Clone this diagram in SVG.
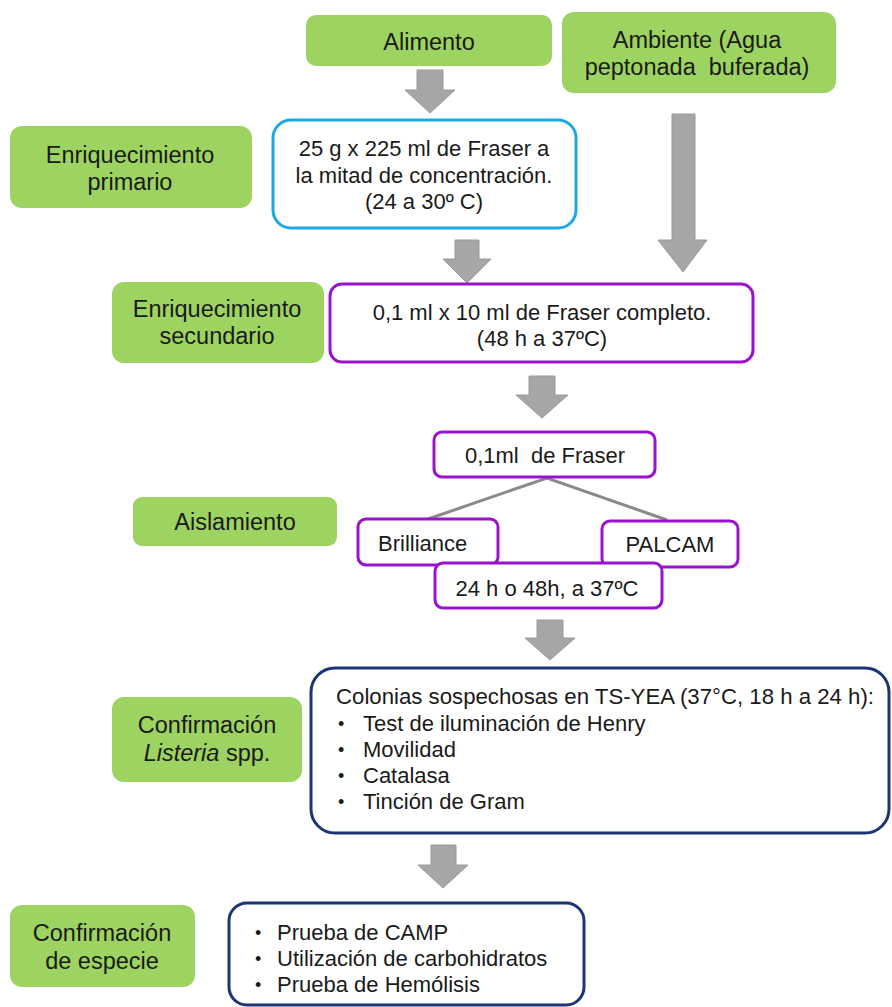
<svg xmlns="http://www.w3.org/2000/svg" width="892" height="1007" viewBox="0 0 892 1007">
<style>
text{font-family:"Liberation Sans",Arial,sans-serif;font-size:22px;fill:#1a1a1a;white-space:pre}
.c{text-anchor:middle}
.gt{font-size:23.5px}
.g{fill:#9dd360;stroke:none}
.blue{fill:#fff;stroke:#1ea7e6;stroke-width:3}
.pur{fill:#fff;stroke:#9a12cc;stroke-width:3}
.navy{fill:#fff;stroke:#1d3575;stroke-width:3}
.arr{fill:#a6a6a6;stroke:#9a9a9a;stroke-width:1}
.ln{stroke:#8a8a8a;stroke-width:3;fill:none}
.b{font-size:18px}
</style>
<rect width="892" height="1007" fill="#fff"/>
<g id="connectors">
<polygon class="arr" points="417,70 443,70 443,90 455,90 430,113 405,90 417,90"/>
<polygon class="arr" points="672,114 695,114 695,240 707,240 683,272 658,240 672,240"/>
<polygon class="arr" points="455,240 479,240 479,259 491,259 467,283 443,259 455,259"/>
<polygon class="arr" points="529,376 555,376 555,395 568,395 542,418 516,395 529,395"/>
<polygon class="arr" points="537,620 563,620 563,638 575,638 550,660 525,638 537,638"/>
<polygon class="arr" points="431,845 456,845 456,865 468,865 443,888 418,865 431,865"/>
<polyline class="ln" points="428,519 547,478 667,520"/>
</g>
<g id="alimento"><rect class="g" x="306" y="15" width="246" height="51" rx="10"/><text class="c gt" x="429" y="50">Alimento</text></g>
<g id="ambiente"><rect class="g" x="562" y="12" width="274" height="81" rx="12"/><text class="c gt" x="697" y="48">Ambiente (Agua</text><text class="c gt" x="697" y="75">peptonada  buferada)</text></g>
<g id="enr-primario"><rect class="g" x="10" y="126" width="242" height="82" rx="12"/><text class="c gt" x="130" y="163">Enriquecimiento</text><text class="c gt" x="130" y="190">primario</text></g>
<g id="fraser-medio"><rect class="blue" x="273" y="120" width="303" height="108" rx="18"/><text class="c" x="424" y="156">25 g x 225 ml de Fraser a</text><text class="c" x="424" y="183">la mitad de concentración.</text><text class="c" x="424" y="209">(24 a 30º C)</text></g>
<g id="enr-secundario"><rect class="g" x="112" y="282" width="212" height="81" rx="12"/><text class="c gt" x="217" y="317">Enriquecimiento</text><text class="c gt" x="217" y="344">secundario</text></g>
<g id="fraser-completo"><rect class="pur" x="330" y="284" width="423" height="78" rx="12"/><text class="c" x="542" y="320">0,1 ml x 10 ml de Fraser completo.</text><text class="c" x="542" y="346">(48 h a 37ºC)</text></g>
<g id="fraser-01"><rect class="pur" x="434" y="432" width="221" height="45" rx="8"/><text class="c" x="545" y="463">0,1ml  de Fraser</text></g>
<g id="aislamiento"><rect class="g" x="133" y="497" width="204" height="49" rx="9"/><text class="c gt" x="235" y="530">Aislamiento</text></g>
<g id="brilliance"><rect class="pur" x="358" y="519" width="140" height="46" rx="8"/><text x="378" y="551">Brilliance</text></g>
<g id="palcam"><rect class="pur" x="602" y="521" width="136" height="46" rx="8"/><text class="c" x="670" y="552">PALCAM</text></g>
<g id="incubacion"><rect class="pur" x="435" y="563" width="227" height="45" rx="8"/><text class="c" x="547" y="596">24 h o 48h, a 37ºC</text></g>
<g id="conf-listeria"><rect class="g" x="112" y="697" width="190" height="85" rx="12"/><text class="c gt" x="207" y="733">Confirmación</text><text class="c gt" x="207" y="761"><tspan font-style="italic">Listeria</tspan> spp.</text></g>
<g id="pruebas-listeria"><rect class="navy" x="311" y="668" width="578" height="165" rx="24"/>
<text x="336" y="704" textLength="538" lengthAdjust="spacingAndGlyphs">Colonias sospechosas en TS-YEA (37°C, 18 h a 24 h):</text>
<text class="b" x="338" y="730">•</text><text x="363" y="731">Test de iluminación de Henry</text>
<text class="b" x="338" y="756">•</text><text x="363" y="757">Movilidad</text>
<text class="b" x="338" y="782">•</text><text x="363" y="783">Catalasa</text>
<text class="b" x="338" y="808">•</text><text x="363" y="809">Tinción de Gram</text></g>
<g id="conf-especie"><rect class="g" x="10" y="905" width="185" height="82" rx="12"/><text class="c gt" x="102" y="941">Confirmación</text><text class="c gt" x="102" y="969">de especie</text></g>
<g id="pruebas-especie"><rect class="navy" x="229" y="903" width="355" height="102" rx="18"/>
<text class="b" x="255" y="939">•</text><text x="277" y="940">Prueba de CAMP</text>
<text class="b" x="255" y="965">•</text><text x="277" y="966">Utilización de carbohidratos</text>
<text class="b" x="255" y="991">•</text><text x="277" y="992">Prueba de Hemólisis</text></g>
</svg>
